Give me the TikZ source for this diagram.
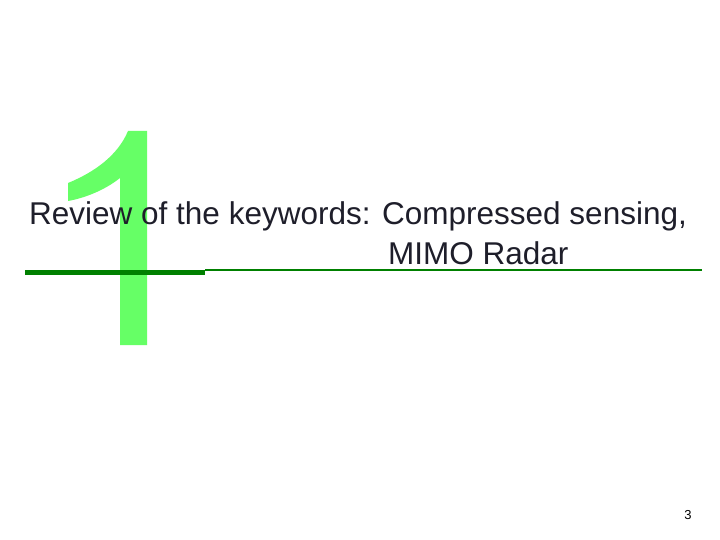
\documentclass[tikz,border=0pt]{standalone}
\usepackage{fontspec}
\setmainfont{Liberation Sans}
\definecolor{bigone}{HTML}{66FF66}
\definecolor{dgreen}{HTML}{008000}
\definecolor{txt}{HTML}{1E1E2A}
\begin{document}
\begin{tikzpicture}[x=1pt,y=-1pt]
\useasboundingbox[fill=white] (0,0) rectangle (720,540);
\fill[bigone] (128,131) -- (147,131) -- (147,345) -- (120,345) -- (120,178)
  .. controls (105,190) and (85,198) .. (68,201) -- (68,183)
  .. controls (95,172) and (118,155) .. (128,131) -- cycle;
\draw[dgreen,line width=5pt] (25,272) -- (205,272);
\draw[dgreen,line width=2pt] (205,270) -- (702,270);
\node[anchor=base west,inner sep=0,text=txt,font=\fontsize{31.5}{31.5}\selectfont] (t1) at (29,225) {Review of the keywords: Compressed sensing,};
\node[anchor=base west,inner sep=0,text=txt,font=\fontsize{31.5}{31.5}\selectfont] (t2) at (388,264) {MIMO Radar};
\node[anchor=base,inner sep=0,font=\fontsize{13}{13}\selectfont] (pg) at (688,519) {3};
\end{tikzpicture}
\end{document}
